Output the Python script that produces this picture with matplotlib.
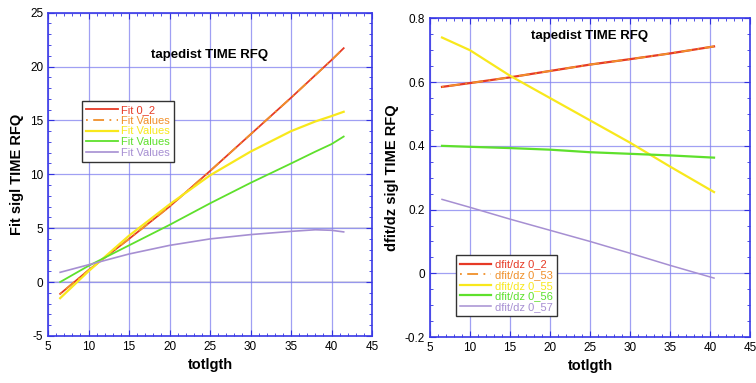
import numpy as np
import matplotlib
matplotlib.use("Agg")
import matplotlib.pyplot as plt
from matplotlib.ticker import MultipleLocator

plt.rcParams["font.family"] = ["Liberation Sans", "DejaVu Sans"]
plt.rcParams["axes.unicode_minus"] = False

# ---- left panel: Fit sigl TIME RFQ ----
x_left = [6.5, 10, 15, 20, 25, 30, 35, 38, 40, 41.5]
fit_02 = [-1.1, 1.1, 4.0, 7.0, 10.3, 13.7, 17.1, 19.2, 20.6, 21.7]
fit_vals_53 = [-1.1, 1.1, 4.0, 7.0, 10.3, 13.7, 17.1, 19.2, 20.6, 21.7]
fit_vals_55 = [-1.5, 1.0, 4.3, 7.2, 9.9, 12.1, 14.0, 14.9, 15.4, 15.8]
fit_vals_56 = [0.0, 1.5, 3.4, 5.3, 7.3, 9.2, 11.0, 12.1, 12.8, 13.5]
fit_vals_57 = [0.9, 1.6, 2.6, 3.4, 4.0, 4.4, 4.7, 4.85, 4.8, 4.65]

# ---- right panel: dfit/dz sigl TIME RFQ ----
x_right = [6.5, 10, 15, 20, 25, 30, 35, 40.5]
dfit_02 = [0.585, 0.597, 0.615, 0.635, 0.655, 0.672, 0.690, 0.712]
dfit_53 = [0.585, 0.597, 0.615, 0.635, 0.655, 0.672, 0.690, 0.712]
dfit_55 = [0.740, 0.700, 0.620, 0.550, 0.480, 0.410, 0.335, 0.255]
dfit_56 = [0.400, 0.397, 0.393, 0.388, 0.380, 0.375, 0.370, 0.363]
dfit_57 = [0.232, 0.207, 0.170, 0.135, 0.100, 0.063, 0.025, -0.015]

RED = "#e63a26"
ORANGE = "#f0902a"
YELLOW = "#f8e81c"
GREEN = "#5ee02c"
PURPLE = "#a68fd2"
GRID = "#8080f0"
COLORS = [RED, ORANGE, YELLOW, GREEN, PURPLE]


def style_axes(ax, ylim, ymajor, yminor, gray_lines=()):
    ax.set_xlim(5, 45)
    ax.set_ylim(*ylim)
    ax.xaxis.set_major_locator(MultipleLocator(5))
    ax.xaxis.set_minor_locator(MultipleLocator(1))
    ax.yaxis.set_major_locator(MultipleLocator(ymajor))
    ax.yaxis.set_minor_locator(MultipleLocator(yminor))
    ax.tick_params(which="both", direction="in", top=True, right=True,
                   color="#3030e0", labelsize=8.5)
    ax.tick_params(which="major", length=4)
    ax.tick_params(which="minor", length=2.5)
    for s in ax.spines.values():
        s.set_color("#3a3ae6")
        s.set_linewidth(1.2)
    ax.grid(True, which="major", color=GRID, linewidth=0.9, alpha=0.75)
    for yv in gray_lines:
        ax.axhline(yv, color="#d4d4de", linewidth=1.2, zorder=1.5)
    ax.set_xlabel("totlgth", fontweight="bold", fontsize=10.5)


def add_legend(ax, anchor):
    leg = ax.legend(loc="upper left", bbox_to_anchor=anchor, borderaxespad=0,
                    fontsize=8, frameon=True, fancybox=False, framealpha=1,
                    borderpad=0.4, handlelength=2.8, labelspacing=0.05,
                    handletextpad=0.3)
    leg.get_frame().set_edgecolor("#333333")
    leg.get_frame().set_linewidth(1.0)
    for txt, c in zip(leg.get_texts(), COLORS):
        txt.set_color(c)


fig = plt.figure(figsize=(7.56, 3.83), dpi=100)

# left panel
ax1 = fig.add_axes([0.0635, 0.123, 0.4286, 0.844])
style_axes(ax1, (-5, 25), 5, 1, gray_lines=(0, 5))
ax1.plot(x_left, fit_02, color=RED, lw=1.3, label="Fit 0_2")
ax1.plot(x_left, fit_vals_53, color=ORANGE, lw=1.3, dashes=(1, 3, 6, 3), label="Fit Values")
ax1.plot(x_left, fit_vals_55, color=YELLOW, lw=1.6, label="Fit Values")
ax1.plot(x_left, fit_vals_56, color=GREEN, lw=1.3, label="Fit Values")
ax1.plot(x_left, fit_vals_57, color=PURPLE, lw=1.2, label="Fit Values")
ax1.set_ylabel("Fit sigl TIME RFQ", fontweight="bold", fontsize=10.5)
ax1.text(0.5, 0.87, "tapedist TIME RFQ", transform=ax1.transAxes,
         ha="center", va="center", fontweight="bold", fontsize=9.5)
add_legend(ax1, (0.105, 0.727))

# right panel
ax2 = fig.add_axes([0.5688, 0.12, 0.4233, 0.832])
style_axes(ax2, (-0.2, 0.8), 0.2, 0.05)
ax2.plot(x_right, dfit_02, color=RED, lw=1.6, label="dfit/dz 0_2")
ax2.plot(x_right, dfit_53, color=ORANGE, lw=1.3, dashes=(1, 3, 6, 3), label="dfit/dz 0_53")
ax2.plot(x_right, dfit_55, color=YELLOW, lw=1.6, label="dfit/dz 0_55")
ax2.plot(x_right, dfit_56, color=GREEN, lw=1.6, label="dfit/dz 0_56")
ax2.plot(x_right, dfit_57, color=PURPLE, lw=1.1, label="dfit/dz 0_57")
ax2.yaxis.set_major_formatter(matplotlib.ticker.FuncFormatter(
    lambda v, p: "0" if abs(v) < 1e-9 else f"{v:g}"))
ax2.set_ylabel("dfit/dz sigl TIME RFQ", fontweight="bold", fontsize=10.5)
ax2.text(0.5, 0.945, "tapedist TIME RFQ", transform=ax2.transAxes,
         ha="center", va="center", fontweight="bold", fontsize=9.5)
add_legend(ax2, (0.081, 0.257))

fig.savefig("out.png", dpi=100)
